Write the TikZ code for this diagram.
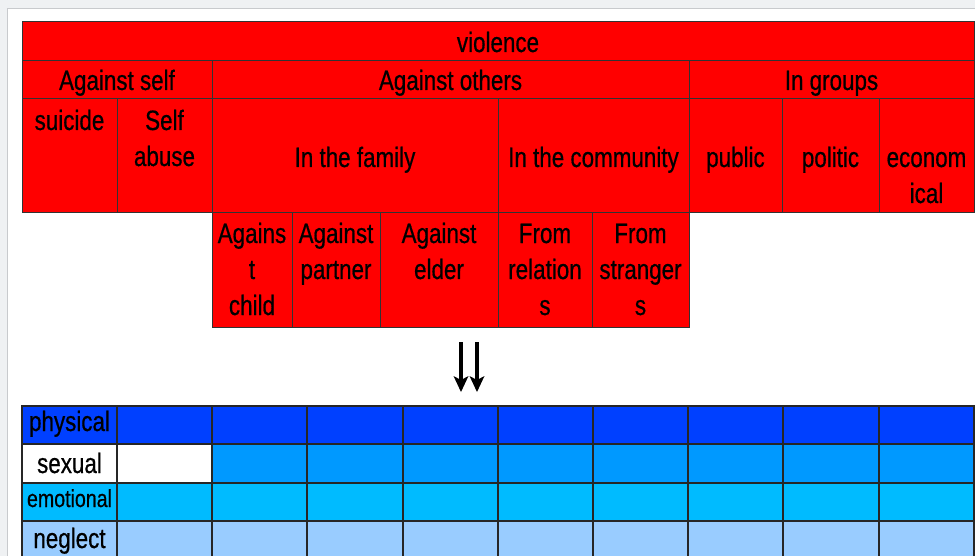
\documentclass[tikz,border=0pt]{standalone}
\usepackage{fontspec}
\setmainfont{Liberation Sans}[FakeStretch=0.8,FakeBold=0.6]
\usetikzlibrary{arrows.meta}
\definecolor{bggray}{RGB}{239,241,243}
\definecolor{panelline}{RGB}{200,202,205}
\definecolor{cellred}{RGB}{255,0,0}
\definecolor{physblue}{RGB}{0,64,255}
\definecolor{sexblue}{RGB}{0,153,255}
\definecolor{emoblue}{RGB}{0,187,255}
\definecolor{negblue}{RGB}{153,204,255}
\begin{document}
\begin{tikzpicture}[x=1pt,y=-1pt,
  redcell/.style={fill=cellred,draw=black!80,line width=1pt},
  bluecell/.style={draw=black!85,line width=1.4pt},
  txt/.style={font=\fontsize{28}{36}\selectfont,inner sep=0pt,anchor=base,align=center,text=black},
  smalltxt/.style={txt,font=\fontsize{24.5}{30}\selectfont},
  dblarrow/.style={line width=4pt},
  arrowhead/.style={fill=black,draw=none}]
\useasboundingbox (0,0) rectangle (975,556);
% background and panel
\fill[bggray] (0,0) rectangle (975,556);
\draw[panelline,fill=white,line width=1pt] (7.5,8.5) rectangle (990,570);
% ---------- red hierarchy ----------
\draw[redcell] (22,22) rectangle (974,61);
\draw[redcell] (22,61) rectangle (212,99);
\draw[redcell] (212,61) rectangle (689,99);
\draw[redcell] (689,61) rectangle (974,99);
\foreach \a/\b in {22/117,117/212,212/498,498/689,689/782,782/879,879/974}
  \draw[redcell] (\a,99) rectangle (\b,213);
\foreach \a/\b in {212/292,292/380,380/498,498/592,592/689}
  \draw[redcell] (\a,213) rectangle (\b,327);
\node[txt] (violence) at (498,52) {violence};
\node[txt] (self) at (117,90) {Against self};
\node[txt] (others) at (450.5,90) {Against others};
\node[txt] (groups) at (831.5,90) {In groups};
\node[txt] (suicide) at (69.5,130) {suicide};
\node[txt] (selfabuse) at (164.5,166) {Self\\abuse};
\node[txt] (family) at (355,167) {In the family};
\node[txt] (community) at (593.5,167) {In the community};
\node[txt] (public) at (735.5,167) {public};
\node[txt] (politic) at (830.5,167) {politic};
\node[txt] (economical) at (926.5,203) {econom\\ical};
\node[txt] (child) at (252,315) {Agains\\t\\child};
\node[txt] (partner) at (336,279) {Against\\partner};
\node[txt] (elder) at (439,279) {Against\\elder};
\node[txt] (relations) at (545,315) {From\\relation\\s};
\node[txt] (strangers) at (640.5,315) {From\\stranger\\s};
% ---------- arrows ----------
\coordinate (a1s) at (461,342);
\coordinate (a1e) at (461,381);
\coordinate (a2s) at (477,342);
\coordinate (a2e) at (477,381);
\draw[dblarrow] (a1s) -- (a1e);
\draw[dblarrow] (a2s) -- (a2e);
\fill[arrowhead] (a1e) ++(0,-1) -- ++(-7.5,-4) -- ++(7.5,16) -- ++(7.5,-16) -- cycle;
\fill[arrowhead] (a2e) ++(0,-1) -- ++(-7.5,-4) -- ++(7.5,16) -- ++(7.5,-16) -- cycle;
% ---------- blue grid ----------
\foreach \a/\b in {22/117,117/212,212/307,307/403,403/498,498/593,593/688,688/783,783/879,879/974}{
  \draw[bluecell,fill=physblue] (\a,406) rectangle (\b,444);
  \draw[bluecell,fill=emoblue] (\a,483) rectangle (\b,521);
  \draw[bluecell,fill=negblue] (\a,521) rectangle (\b,580);
}
\draw[bluecell,fill=white] (22,444) rectangle (117,483);
\draw[bluecell,fill=white] (117,444) rectangle (212,483);
\foreach \a/\b in {212/307,307/403,403/498,498/593,593/688,688/783,783/879,879/974}
  \draw[bluecell,fill=sexblue] (\a,444) rectangle (\b,483);
\node[txt] (physical) at (69.5,431) {physical};
\node[txt] (sexual) at (69.5,473) {sexual};
\node[smalltxt] (emotional) at (69.5,507) {emotional};
\node[txt] (neglect) at (69.5,548) {neglect};
\end{tikzpicture}
\end{document}
